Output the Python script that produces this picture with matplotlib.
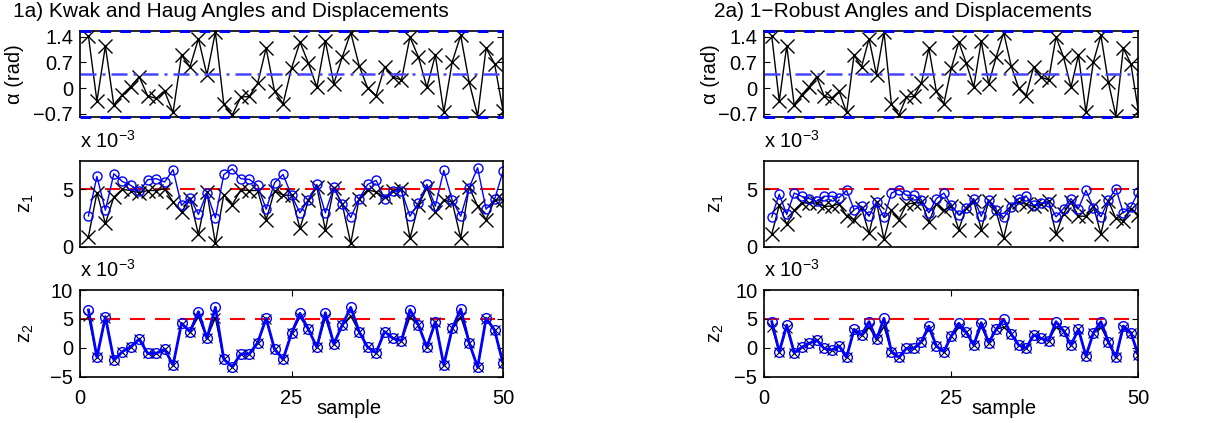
import matplotlib
matplotlib.use("Agg")
import matplotlib.pyplot as plt
import numpy as np
from matplotlib.ticker import FuncFormatter

plt.rcParams["font.family"] = ["Liberation Sans", "DejaVu Sans"]
plt.rcParams["mathtext.fontset"] = "custom"
plt.rcParams["mathtext.rm"] = "Liberation Sans"
plt.rcParams["mathtext.it"] = "Liberation Sans"

# ---- data ----
sample = np.arange(1, 51)

# angle sequence (rad), identical in both columns
alpha = [1.42, -0.36, 1.15, -0.47, -0.18, 0.04, 0.31, -0.22, -0.28, -0.09,
         -0.67, 0.90, 0.58, 1.35, 0.36, 1.53, -0.45, -0.74, -0.25, -0.23,
         0.13, 1.09, -0.09, -0.43, 0.54, 1.26, 0.68, 0.02, 1.29, 0.12,
         0.85, 1.52, 0.61, 0.00, -0.21, 0.58, 0.30, 0.22, 1.40, 0.85,
         0.02, 0.90, -0.66, 0.72, 1.44, 0.16, -0.76, 1.09, 0.67, -0.62]
alpha_lo, alpha_mid, alpha_hi = -np.pi / 4, np.pi / 8, np.pi / 2

# displacements in units of 1e-3, limit at 5e-3
z_limit = 5

kh_z1_x = [0.87, 4.70, 2.03, 4.33, 5.00, 4.90, 4.71, 4.90, 4.90, 5.06,
           3.90, 3.03, 4.19, 1.07, 4.77, 0.29, 4.55, 3.68, 4.95, 4.90,
           4.90, 2.34, 4.90, 4.50, 4.48, 1.59, 4.05, 5.20, 1.45, 5.10,
           3.70, 0.29, 4.20, 4.97, 4.77, 4.30, 4.85, 5.06, 0.73, 3.60,
           5.15, 3.03, 4.05, 3.90, 0.73, 5.20, 3.53, 2.37, 4.05, 4.10]
kh_z1_o = [2.69, 6.13, 3.18, 6.36, 5.69, 5.35, 4.83, 5.84, 5.93, 5.64,
           6.71, 3.61, 4.28, 2.81, 4.68, 2.51, 6.30, 6.79, 5.93, 5.87,
           5.35, 3.27, 5.58, 6.30, 4.48, 2.95, 4.10, 5.43, 2.95, 5.20,
           3.70, 2.55, 4.19, 5.43, 5.78, 4.19, 4.83, 4.90, 2.66, 3.81,
           5.43, 3.53, 6.65, 4.05, 2.66, 5.15, 6.88, 3.27, 4.13, 6.56]
kh_z2_x = [5.50, -1.64, 5.10, -2.10, -0.67, 0.19, 1.52, -0.96, -0.96, -0.26,
           -2.98, 4.20, 2.79, 5.40, 1.64, 5.20, -2.00, -3.27, -1.07, -1.07,
           0.88, 4.90, -0.26, -2.00, 2.50, 5.30, 3.20, 0.09, 5.20, 0.66,
           3.94, 5.50, 2.79, 0.09, -0.85, 2.79, 1.64, 1.23, 5.30, 3.94,
           0.09, 4.40, -2.98, 3.37, 5.40, 0.88, -3.37, 4.90, 3.08, -2.68]
kh_z2_o = [6.54, -1.64, 5.38, -2.10, -0.67, 0.19, 1.52, -0.96, -0.96, -0.26,
           -2.98, 4.24, 2.79, 6.25, 1.64, 7.00, -2.00, -3.27, -1.07, -1.07,
           0.88, 5.10, -0.26, -2.00, 2.50, 5.97, 3.20, 0.09, 6.07, 0.66,
           3.94, 7.00, 2.79, 0.09, -0.85, 2.79, 1.64, 1.23, 6.60, 3.94,
           0.09, 4.50, -2.98, 3.37, 6.71, 0.88, -3.37, 5.10, 3.08, -2.68]

rb_z1_x = [1.10, 3.61, 1.94, 3.18, 3.81, 3.81, 3.81, 3.53, 3.53, 3.75,
           2.66, 2.37, 3.41, 1.16, 3.90, 0.64, 3.18, 2.37, 3.70, 3.81,
           3.90, 2.17, 3.75, 3.18, 3.53, 1.50, 3.41, 4.00, 1.50, 4.00,
           3.03, 0.73, 3.61, 3.90, 3.70, 3.53, 3.70, 3.96, 1.10, 2.89,
           3.90, 2.66, 2.66, 3.53, 1.10, 4.00, 2.46, 2.27, 3.33, 2.75]
rb_z1_o = [2.60, 4.57, 2.81, 4.68, 4.39, 4.19, 3.96, 4.40, 4.40, 4.28,
           4.91, 3.24, 3.53, 2.66, 3.90, 2.55, 4.68, 4.97, 4.48, 4.48,
           4.10, 2.95, 4.19, 4.68, 3.61, 2.75, 3.41, 4.19, 2.66, 4.10,
           3.24, 2.55, 3.47, 4.19, 4.40, 3.61, 3.81, 3.90, 2.60, 3.33,
           4.19, 3.33, 4.91, 3.41, 2.60, 4.05, 5.06, 2.95, 3.47, 4.77]
rb_z2_x = [3.65, -0.70, 3.50, -0.85, 0.09, 0.78, 1.35, -0.09, -0.38, 0.31,
           -1.64, 2.90, 2.21, 3.60, 1.47, 3.70, -0.67, -1.64, -0.09, -0.09,
           1.06, 3.30, 0.31, -0.67, 2.04, 3.60, 2.68, 0.48, 3.70, 0.88,
           3.20, 3.60, 2.39, 0.48, -0.09, 2.21, 1.64, 1.23, 3.60, 2.96,
           0.48, 3.20, -1.42, 2.61, 3.60, 1.06, -1.64, 3.40, 2.61, -1.25]
rb_z2_o = [4.52, -0.70, 3.94, -0.85, 0.09, 0.78, 1.35, -0.09, -0.38, 0.31,
           -1.64, 3.20, 2.21, 4.52, 1.47, 5.10, -0.67, -1.64, -0.09, -0.09,
           1.06, 3.77, 0.31, -0.67, 2.04, 4.24, 2.68, 0.48, 4.34, 0.88,
           3.20, 4.93, 2.39, 0.48, -0.09, 2.21, 1.64, 1.23, 4.52, 2.96,
           0.48, 3.20, -1.42, 2.61, 4.52, 1.06, -1.64, 3.77, 2.61, -1.25]

W, H = 1231, 423
fig = plt.figure(figsize=(W / 100, H / 100), dpi=100)

FS = 14.5
TFS = 15
fmt = FuncFormatter(lambda v, p: f"{v:g}".replace("-", "\u2212"))
red_dash = (0, (7.2, 4.8))


def px_axes(x0, x1, y0, y1):
    return fig.add_axes([x0 / W, 1 - y1 / H, (x1 - x0) / W, (y1 - y0) / H])


def style(ax, xticks=False):
    ax.tick_params(direction="in", top=True, right=True, length=4,
                   labelsize=FS, pad=5, width=0.8)
    ax.tick_params(axis="x", pad=9)
    ax.set_xlim(0, 50)
    if xticks:
        ax.set_xticks([0, 25, 50])
    else:
        ax.set_xticks([])
    for s in ax.spines.values():
        s.set_linewidth(1.2)
    ax.yaxis.set_major_formatter(fmt)


def column(x0, x1, title, title_x, z1_x, z1_o, z2_x, z2_o,
           alpha_lab_x, z_lab_x, sample_x):
    # angles
    ax = px_axes(x0, x1, 30.7, 116.7)
    style(ax)
    ax.plot(sample, alpha, "k-", marker="x", lw=1, ms=10, mew=1)
    for yv in (alpha_hi, alpha_lo):
        ax.axhline(yv, color="#0000ff", lw=2.2, ls=(0, (3.5, 3)),
                   clip_on=False, zorder=5)
    ax.axhline(alpha_mid, color="#4646ff", lw=1.8, ls=(0, (6.4, 2.4, 1.2, 2.4)))
    ax.set_ylim(alpha_lo, alpha_hi)
    ax.set_yticks([-0.7, 0, 0.7, 1.4])
    fig.text(alpha_lab_x / W, 1 - 73.7 / H, "\u03b1 (rad)", rotation=90,
             ha="center", va="center", fontsize=FS)
    fig.text(title_x / W, 1 - 17.3 / H, title, ha="left", va="baseline",
             fontsize=TFS)

    # first displacement
    ax = px_axes(x0, x1, 160.7, 246.7)
    style(ax)
    ax.axhline(z_limit, color="#ff0000", lw=1.5, ls=red_dash, zorder=1)
    ax.plot(sample, z1_x, "k-", marker="x", lw=1, ms=10, mew=1)
    ax.plot(sample, z1_o, "-", color="#0000ff", marker="o", mfc="none",
            lw=1, ms=6.5, mew=1)
    ax.set_ylim(0, 7.5)
    ax.set_yticks([0, 5])
    fig.text(x0 / W, 1 - 148.3 / H, "x 10$^{\u22123}$", ha="left",
             va="baseline", fontsize=FS)
    fig.text(z_lab_x / W, 1 - 203.7 / H, "z$_1$", rotation=90,
             ha="center", va="center", fontsize=FS)

    # second displacement
    ax = px_axes(x0, x1, 290, 376.7)
    style(ax, xticks=True)
    ax.axhline(z_limit, color="#ff0000", lw=1.5, ls=red_dash, zorder=1)
    ax.plot(sample, z2_x, "k-", marker="x", lw=1, ms=6.5, mew=0.8)
    ax.plot(sample, z2_o, "-", color="#0000ff", marker="o", mfc="none",
            lw=2, ms=7, mew=1)
    ax.set_ylim(-5, 10)
    ax.set_yticks([-5, 0, 5, 10])
    fig.text(x0 / W, 1 - 277 / H, "x 10$^{\u22123}$", ha="left",
             va="baseline", fontsize=FS)
    fig.text(z_lab_x / W, 1 - 333 / H, "z$_2$", rotation=90,
             ha="center", va="center", fontsize=FS)
    fig.text(sample_x / W, 1 - 414 / H, "sample", ha="center",
             va="baseline", fontsize=FS)


column(80, 503, "1a) Kwak and Haug Angles and Displacements", 13,
       kh_z1_x, kh_z1_o, kh_z2_x, kh_z2_o, 15, 26, 349)
column(764.3, 1138.3, "2a) 1\u2212Robust Angles and Displacements", 714,
       rb_z1_x, rb_z1_o, rb_z2_x, rb_z2_o, 711, 717, 1004)

fig.savefig("out.png", dpi=100)
